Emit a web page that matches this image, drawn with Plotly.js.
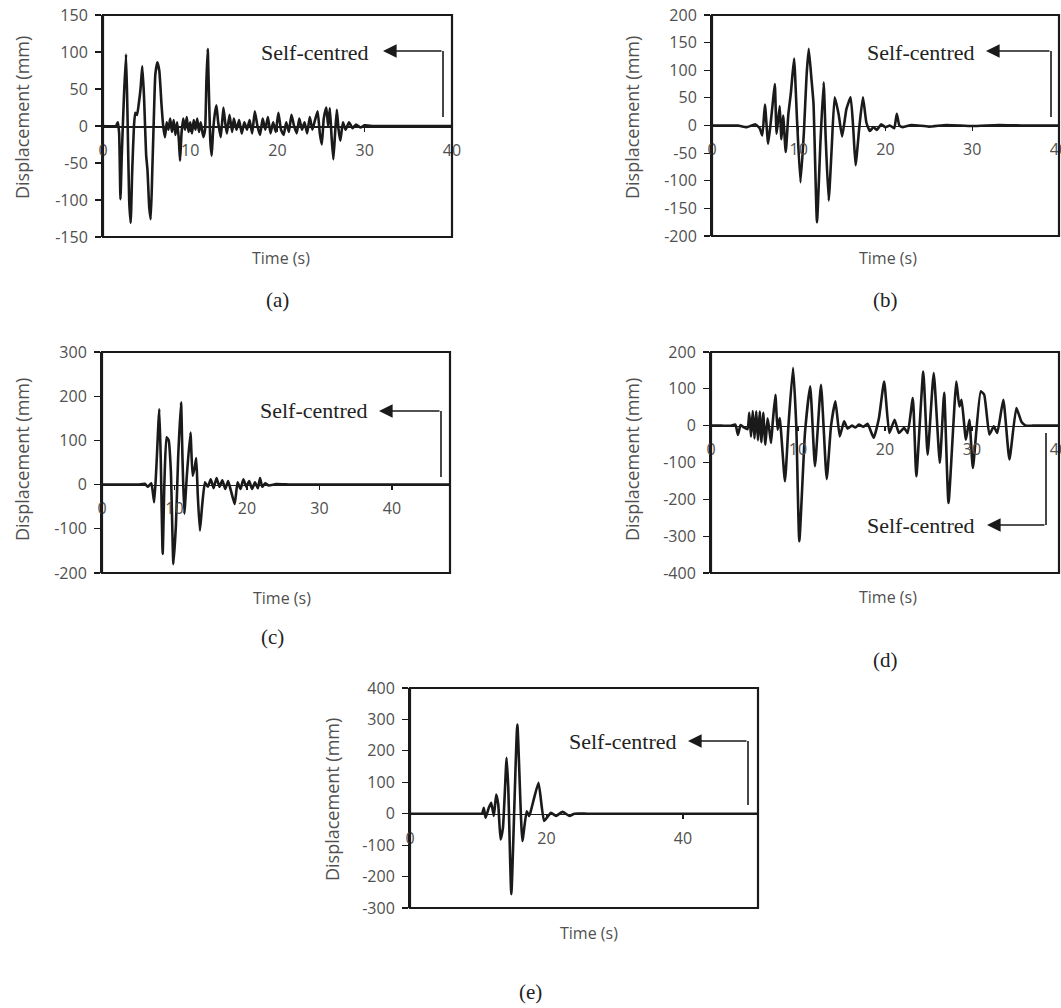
<!DOCTYPE html>
<html>
<head>
<meta charset="utf-8">
<script src="https://cdn.plot.ly/plotly-3.0.1.min.js"></script>
<style>
html,body{margin:0;padding:0;background:#fff;}
#chart{width:1061px;height:1008px;}
</style>
</head>
<body>
<div id="chart"></div>
<script>
// ---------- DATA ----------
// (a)
const tA = [0,1.5,1.7,1.85,2.0,2.15,2.4,2.64,2.8,3.0,3.17,3.35,3.55,3.7,3.9,4.1,4.3,4.5,4.7,4.85,4.95,5.1,5.3,5.47,5.65,5.85,6.0,6.23,6.45,6.7,6.9,7.1,7.3,7.5,7.7,7.9,8.1,8.3,8.5,8.7,8.83,9.0,9.2,9.4,9.6,9.8,10.0,10.2,10.4,10.6,10.8,11.0,11.2,11.5,11.7,11.85,12.0,12.15,12.3,12.46,12.6,12.8,13.0,13.2,13.5,13.8,14.0,14.2,14.5,14.8,15.0,15.3,15.6,15.9,16.2,16.5,16.8,17.1,17.4,17.7,18.0,18.3,18.6,18.9,19.2,19.5,19.8,20.1,20.4,20.7,21.0,21.3,21.6,21.9,22.2,22.5,22.8,23.1,23.4,23.7,24.0,24.3,24.6,24.85,25.08,25.3,25.6,25.8,26.0,26.2,26.4,26.6,26.8,27.0,27.2,27.5,27.8,28.2,28.6,29.0,29.5,30,31,35,40];
const dA = [0,0,5,-10,-99,-40,40,97,20,-100,-131,-60,0,18,15,30,50,81,40,-10,-40,-60,-110,-126,-60,20,70,86,75,30,0,-15,5,-5,10,-8,8,-12,5,-20,-47,-10,10,-5,12,-8,5,-10,8,-5,10,-8,5,-15,-5,60,104,40,-20,-40,-10,15,28,5,-15,25,5,-10,15,-8,10,-5,8,-10,5,-5,8,-10,20,0,-12,10,-5,12,-10,5,-8,18,-5,-12,5,-8,15,0,-10,10,-5,5,-10,12,-5,8,20,-10,-25,10,25,0,24,-15,-45,-10,22,-5,-20,5,-5,5,-3,2,-2,1,0,0,0];
// (b)
const tB = [0,2,3,4,5,5.5,5.8,6.1,6.47,6.8,7.0,7.24,7.45,7.8,8.0,8.2,8.5,8.8,9.1,9.46,9.8,10.2,10.6,10.9,11.15,11.46,11.7,12.1,12.5,12.87,13.1,13.45,13.8,14.14,14.6,15.0,15.5,15.98,16.3,16.55,17.0,17.4,17.8,18.2,18.6,19.0,19.5,20.0,20.5,21.0,21.3,21.6,22,23,25,27,30,33,36,40];
const dB = [0,0,0,-3,2,-5,-18,38,-33,10,40,75,-15,35,-25,18,-48,20,60,121,10,-103,-10,90,139,85,40,-175,-30,78,-20,-136,-40,51,20,-20,30,51,-10,-72,0,51,5,-10,-3,-8,2,-3,0,-5,21,0,-3,1,-2,1,-1,1,0,0];
// (c)
const tC = [0,3,5,5.9,6.3,6.8,7.2,7.5,7.9,8.1,8.37,8.6,8.9,9.2,9.5,9.85,10.2,10.5,10.9,11.1,11.35,11.7,12.2,12.5,12.8,13.0,13.2,13.5,13.8,14.2,14.6,15.0,15.4,15.8,16.2,16.6,17.0,17.4,17.8,18.3,18.7,19.1,19.5,19.9,20.3,20.7,21.1,21.5,21.8,22.1,22.5,23,24,26,30,36,42,48];
const dC = [0,0,0,2,-5,3,-40,40,171,60,-157,0,107,100,30,-180,-90,60,186,60,-66,20,118,20,40,60,-20,-104,-50,5,-5,12,-8,15,-5,10,-10,8,-15,-44,5,-10,12,-5,8,-10,5,-8,15,-5,3,-2,1,0,0,0,0,0];
// (d)
const tD = [0,1.2,2.3,2.8,3.1,3.4,3.8,4.2,4.4,4.6,4.8,5.0,5.2,5.4,5.6,5.8,6.0,6.25,6.5,6.7,6.9,7.1,7.4,7.65,7.9,8.5,8.9,9.43,9.8,10.15,10.8,11.4,11.95,12.64,13.3,13.8,14.3,14.8,15.3,15.7,16.2,16.6,17.0,17.5,18.0,18.7,19.3,19.9,20.5,21.1,21.6,22.2,22.6,23.2,23.6,24.4,24.9,25.6,26.3,26.8,27.3,28.2,28.55,28.8,29.3,29.7,30.1,31.0,31.4,32.0,32.5,32.9,33.6,34.3,35.1,35.7,36.2,37,38.5,40];
const dD = [0,0,0,3,-25,2,-5,-10,35,-30,40,-35,39,-40,38,-45,35,-52,20,-10,-47,10,84,-11,21,-151,0,157,0,-314,-20,107,-110,111,-145,0,66,-29,12,-8,0,-5,3,-3,5,-33,20,120,-20,16,-20,-6,-20,75,-137,147,-79,143,-101,89,-210,120,52,70,-38,16,-115,93,84,-24,-2,-20,70,-92,48,10,0,0,0,0];
// (e)
const tE = [0,4,8,10.2,10.57,10.82,11.07,11.55,11.9,12.29,12.63,12.93,13.27,13.62,14.16,14.4,14.85,15.73,16.47,17.1,17.45,17.7,18.83,19.66,20.65,21.4,22.37,23.35,24.1,26,32,40,46,51];
const dE = [0,0,0,0,0,19,-13,19,35,-7,61,30,-82,-45,178,83,-256,284,-87,8,-7,8,98,-23,3,-7,6,-7,0,0,0,0,0,0];

const xTicksA = [0,10,20,30,40];
const xTicksE = [0,20,40];
const yTicksA = [-150,-100,-50,0,50,100,150];
const yTicksB = [-200,-150,-100,-50,0,50,100,150,200];
const yTicksC = [-200,-100,0,100,200,300];
const yTicksD = [-400,-300,-200,-100,0,100,200];
const yTicksE = [-300,-200,-100,0,100,200,300,400];
const yLabel = 'Displacement (mm)';
const xLabel = 'Time (s)';
const noteLabel = 'Self-centred';
const captions = ['(a)','(b)','(c)','(d)','(e)'];

// ---------- LAYOUT ----------
const W = 1061, H = 1008;
const fx = px => px / W;
const fy = py => 1 - py / H;

const panels = [
  {t:tA, d:dA, box:[103,15,452,237], xr:[0,40], xt:xTicksA, yr:[-150,150], yt:yTicksA,
   ytitle:[22,118], xtitle:[281,258], cap:[277,300],
   note:{tx:371, ty:52, tip:383, ly:51, cx:443, cy:117}},
  {t:tB, d:dB, box:[712,15,1059,236], xr:[0,40], xt:xTicksA, yr:[-200,200], yt:yTicksB,
   ytitle:[632,118], xtitle:[888,258], cap:[885,300],
   note:{tx:977, ty:52, tip:986, ly:51, cx:1051, cy:117}},
  {t:tC, d:dC, box:[102,352,450,573], xr:[0,48], xt:xTicksA, yr:[-200,300], yt:yTicksC,
   ytitle:[22,460], xtitle:[282,598], cap:[272,637],
   note:{tx:370, ty:410, tip:379, ly:411, cx:441, cy:477}},
  {t:tD, d:dD, box:[711,352,1059,573], xr:[0,40], xt:xTicksA, yr:[-400,200], yt:yTicksD,
   ytitle:[632,460], xtitle:[888,597], cap:[885,660],
   note:{tx:977, ty:525, tip:987, ly:525, cx:1046, cy:433}},
  {t:tE, d:dE, box:[410,688,758,908], xr:[0,51], xt:xTicksE, yr:[-300,400], yt:yTicksE,
   ytitle:[332,800], xtitle:[589,933], cap:[530,992],
   note:{tx:679, ty:741, tip:688, ly:741, cx:748, cy:805}}
];

const sans = 'Open Sans, DejaVu Sans, sans-serif';
const tickFont = {family:sans, size:16, color:'#505050'};
const yTitleFont = {family:sans, size:18, color:'#505050'};
const xTitleFont = {family:sans, size:16, color:'#505050'};
const serifNote = {family:'Liberation Serif, Times New Roman, serif', size:22, color:'#222'};
const serifCap = {family:'Liberation Serif, Times New Roman, serif', size:21, color:'#222'};
const ink = '#1a1a1a';

const traces = [];
const layout = {
  width: W, height: H,
  margin: {l:0, r:0, t:0, b:0},
  paper_bgcolor: '#fff', plot_bgcolor: '#fff',
  showlegend: false,
  shapes: [], annotations: []
};

panels.forEach((p, i) => {
  const n = i === 0 ? '' : String(i + 1);
  const xa = 'xaxis' + n, ya = 'yaxis' + n;
  const xid = 'x' + n, yid = 'y' + n;
  const [x0, y0, x1, y1] = p.box;
  const yDom = [fy(y1), fy(y0)];
  const zeroPos = yDom[0] + (0 - p.yr[0]) / (p.yr[1] - p.yr[0]) * (yDom[1] - yDom[0]);

  traces.push({
    type: 'scatter', mode: 'lines', x: p.t, y: p.d,
    xaxis: xid, yaxis: yid,
    line: {color: ink, width: 2.6, shape: 'spline', smoothing: 0.45},
    hoverinfo: 'skip'
  });

  layout[xa] = {
    domain: [fx(x0), fx(x1)], range: p.xr,
    anchor: 'free', position: zeroPos,
    tickmode: 'array', tickvals: p.xt, ticktext: p.xt.map(String),
    ticks: 'outside', ticklen: 4, tickwidth: 1.2, tickcolor: ink,
    showline: true, linecolor: ink, linewidth: 1.6,
    showgrid: false, zeroline: false, ticklabeloverflow: 'allow',
    tickfont: tickFont, ticklabelstandoff: 5, fixedrange: true
  };
  layout[ya] = {
    domain: yDom, range: p.yr, anchor: xid,
    tickmode: 'array', tickvals: p.yt, ticktext: p.yt.map(String),
    ticks: 'outside', ticklen: 6, tickwidth: 1.2, tickcolor: ink,
    showline: true, linecolor: ink, linewidth: 2,
    showgrid: false, zeroline: false, ticklabeloverflow: 'allow',
    tickfont: tickFont, ticklabelstandoff: 4, fixedrange: true
  };

  // frame
  layout.shapes.push({type:'rect', xref: xid + ' domain', yref: yid + ' domain',
    x0:0, x1:1, y0:0, y1:1, line:{color: ink, width: 2.2}, layer:'above'});

  // axis titles & caption
  layout.annotations.push({xref:'paper', yref:'paper', x:fx(p.ytitle[0]), y:fy(p.ytitle[1]),
    text: yLabel, textangle: -90, showarrow:false, font: yTitleFont, xanchor:'center', yanchor:'middle'});
  layout.annotations.push({xref:'paper', yref:'paper', x:fx(p.xtitle[0]), y:fy(p.xtitle[1]),
    text: xLabel, showarrow:false, font: xTitleFont, xanchor:'center', yanchor:'middle'});
  layout.annotations.push({xref:'paper', yref:'paper', x:fx(p.cap[0]), y:fy(p.cap[1]),
    text: captions[i], showarrow:false, font: serifCap, xanchor:'center', yanchor:'middle'});

  // self-centred note: text + arrow + bracket line
  const q = p.note;
  layout.annotations.push({xref:'paper', yref:'paper', x:fx(q.tx), y:fy(q.ty),
    text: noteLabel, showarrow:false, font: serifNote, xanchor:'right', yanchor:'middle'});
  layout.annotations.push({xref:'paper', yref:'paper', x:fx(q.tip), y:fy(q.ly),
    text:'', showarrow:true, ax: q.cx - q.tip, ay: 0, axref:'pixel', ayref:'pixel',
    arrowhead:2, arrowsize:1.7, arrowwidth:1.6, arrowcolor: ink, standoff:0, startstandoff:0});
  layout.shapes.push({type:'line', xref:'paper', yref:'paper',
    x0:fx(q.cx), x1:fx(q.cx), y0:fy(q.ly), y1:fy(q.cy), line:{color: ink, width:1.6}});
});

Plotly.newPlot('chart', traces, layout, {displayModeBar:false, staticPlot:true});
</script>
</body>
</html>
